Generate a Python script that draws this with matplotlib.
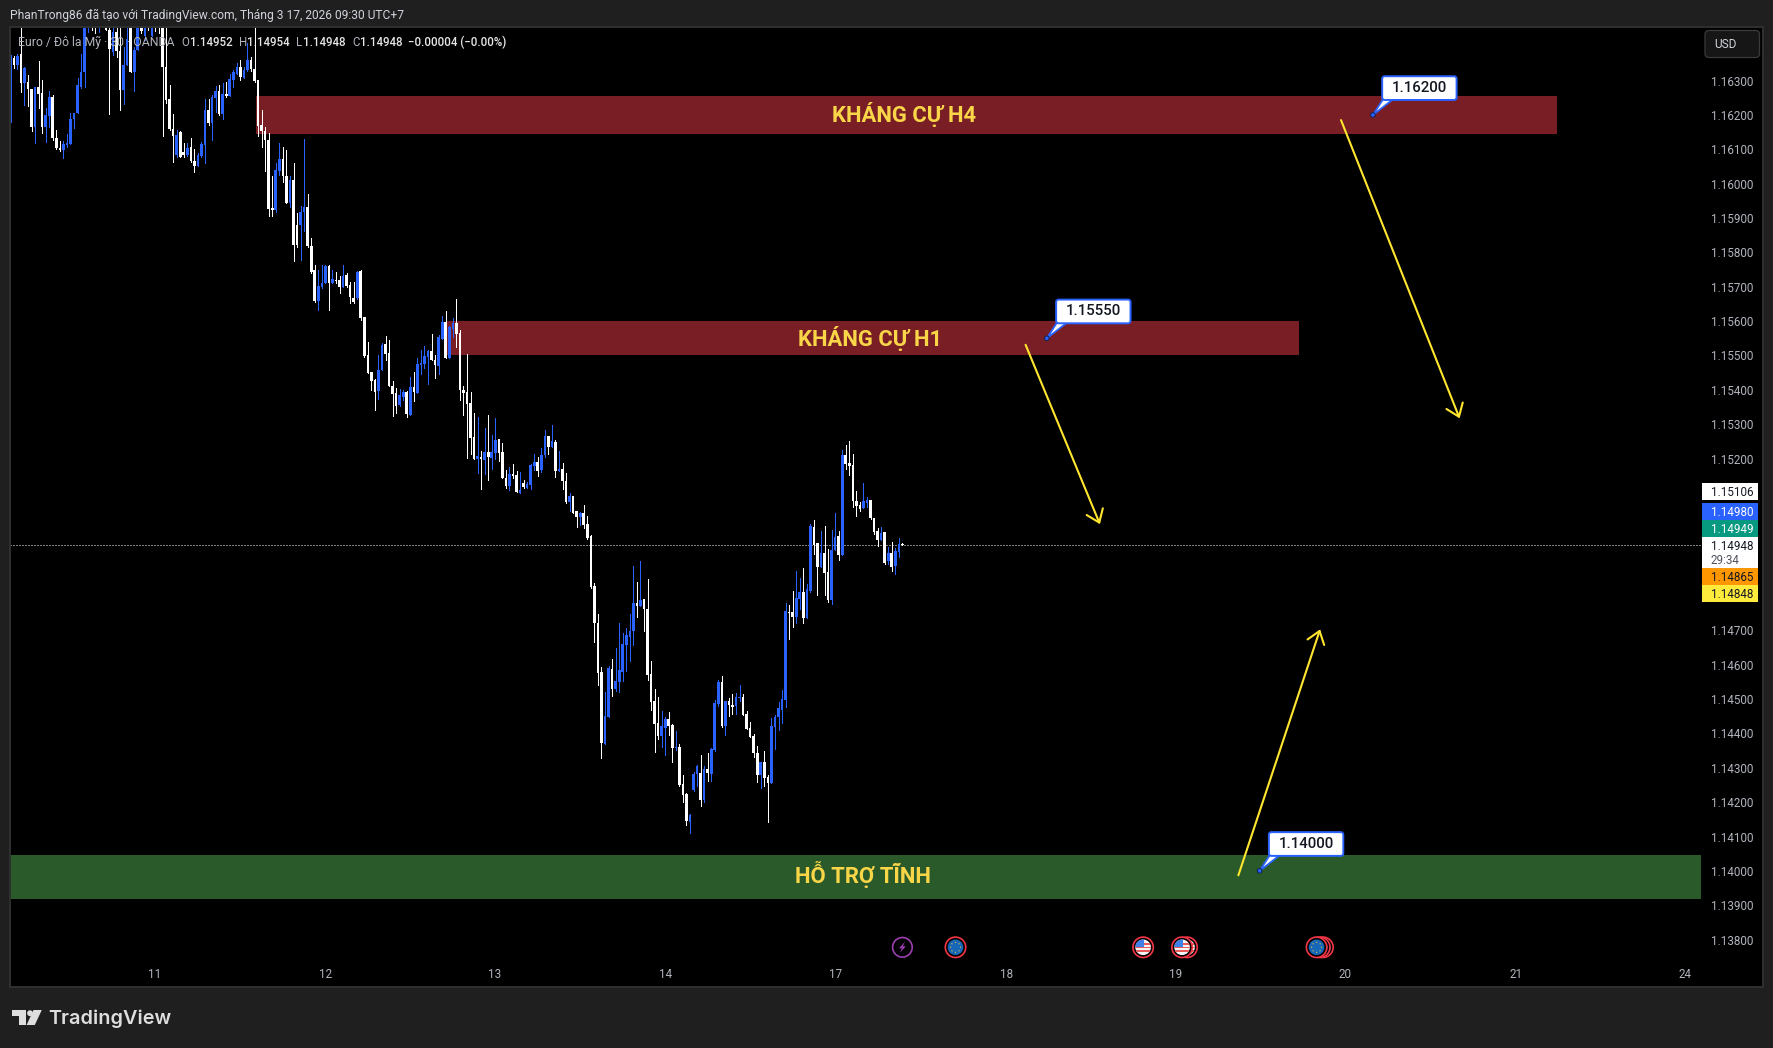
import numpy as np
import matplotlib
matplotlib.use("Agg")
import matplotlib.pyplot as plt
from matplotlib.patches import Rectangle, Circle, Polygon, FancyBboxPatch

# EURUSD 30 min candles, OANDA
opens = [
    1.16176, 1.16365, 1.16346, 1.16378, 1.16294, 1.16297, 1.16275, 1.16166, 1.16281, 1.16263,
    1.16166, 1.16198, 1.16251, 1.16132, 1.16103, 1.16097, 1.16112, 1.16116, 1.16188, 1.16205,
    1.16281, 1.16324, 1.16477, 1.16491, 1.16472, 1.16465, 1.16486, 1.16477, 1.16448, 1.16384,
    1.16442, 1.16387, 1.16273, 1.16346, 1.16452, 1.16325, 1.16388, 1.16477, 1.16430, 1.16467,
    1.16430, 1.16465, 1.16462, 1.16453, 1.16341, 1.16247, 1.16160, 1.16084, 1.16149, 1.16092,
    1.16084, 1.16106, 1.16066, 1.16050, 1.16082, 1.16113, 1.16215, 1.16178, 1.16249, 1.16271,
    1.16203, 1.16261, 1.16256, 1.16302, 1.16320, 1.16339, 1.16309, 1.16331, 1.16360, 1.16333,
    1.16302, 1.16171, 1.16152, 1.16126, 1.15929, 1.15922, 1.16038, 1.16072, 1.16021, 1.15943,
    1.16011, 1.15880, 1.15880, 1.15917, 1.15932, 1.15819, 1.15749, 1.15659, 1.15698, 1.15711,
    1.15759, 1.15712, 1.15720, 1.15720, 1.15699, 1.15735, 1.15706, 1.15667, 1.15667, 1.15746,
    1.15613, 1.15502, 1.15451, 1.15429, 1.15397, 1.15458, 1.15534, 1.15508, 1.15412, 1.15390,
    1.15356, 1.15379, 1.15394, 1.15327, 1.15409, 1.15391, 1.15473, 1.15476, 1.15496, 1.15513,
    1.15487, 1.15470, 1.15548, 1.15598, 1.15493, 1.15577, 1.15595, 1.15566, 1.15400, 1.15394,
    1.15362, 1.15263, 1.15199, 1.15205, 1.15196, 1.15219, 1.15202, 1.15217, 1.15257, 1.15219,
    1.15144, 1.15121, 1.15155, 1.15153, 1.15100, 1.15129, 1.15115, 1.15123, 1.15179, 1.15190,
    1.15167, 1.15211, 1.15266, 1.15234, 1.15249, 1.15164, 1.15170, 1.15135, 1.15074, 1.15091,
    1.15048, 1.15030, 1.15042, 1.15010, 1.14975, 1.14829, 1.14721, 1.14579, 1.14369, 1.14448,
    1.14588, 1.14529, 1.14550, 1.14579, 1.14657, 1.14681, 1.14698, 1.14780, 1.14771, 1.14791,
    1.14762, 1.14573, 1.14494, 1.14430, 1.14393, 1.14416, 1.14442, 1.14425, 1.14358, 1.14361,
    1.14253, 1.14224, 1.14142, 1.14235, 1.14282, 1.14285, 1.14206, 1.14297, 1.14282, 1.14352,
    1.14486, 1.14550, 1.14422, 1.14494, 1.14483, 1.14480, 1.14503, 1.14506, 1.14457, 1.14416,
    1.14393, 1.14343, 1.14279, 1.14317, 1.14273, 1.14256, 1.14419, 1.14448, 1.14468, 1.14497,
    1.14753, 1.14753, 1.14739, 1.14791, 1.14812, 1.14736, 1.14815, 1.15001, 1.14954, 1.14884,
    1.14925, 1.14870, 1.14788, 1.14934, 1.14974, 1.14919, 1.15210, 1.15187, 1.15181, 1.15076,
    1.15065, 1.15056, 1.15070, 1.15079, 1.15027, 1.14989, 1.14963, 1.14986, 1.14902, 1.14925,
    1.14887, 1.14928, 1.14952,
]
highs = [
    1.16375, 1.16372, 1.16377, 1.16477, 1.16341, 1.16317, 1.16275, 1.16281, 1.16357, 1.16302,
    1.16220, 1.16271, 1.16259, 1.16157, 1.16123, 1.16125, 1.16145, 1.16205, 1.16205, 1.16307,
    1.16377, 1.16496, 1.16516, 1.16506, 1.16486, 1.16506, 1.16501, 1.16496, 1.16467, 1.16477,
    1.16467, 1.16477, 1.16399, 1.16467, 1.16477, 1.16399, 1.16496, 1.16496, 1.16486, 1.16486,
    1.16486, 1.16486, 1.16482, 1.16477, 1.16467, 1.16288, 1.16203, 1.16157, 1.16152, 1.16118,
    1.16118, 1.16132, 1.16101, 1.16089, 1.16121, 1.16247, 1.16246, 1.16259, 1.16285, 1.16288,
    1.16292, 1.16295, 1.16320, 1.16331, 1.16351, 1.16360, 1.16341, 1.16409, 1.16370, 1.16477,
    1.16302, 1.16215, 1.16166, 1.16147, 1.16021, 1.16060, 1.16118, 1.16108, 1.16099, 1.16021,
    1.16060, 1.15914, 1.15936, 1.16130, 1.15969, 1.15841, 1.15764, 1.15749, 1.15764, 1.15764,
    1.15764, 1.15749, 1.15744, 1.15732, 1.15764, 1.15740, 1.15715, 1.15715, 1.15747, 1.15750,
    1.15613, 1.15540, 1.15451, 1.15431, 1.15502, 1.15536, 1.15557, 1.15545, 1.15426, 1.15406,
    1.15403, 1.15400, 1.15397, 1.15438, 1.15452, 1.15492, 1.15516, 1.15528, 1.15516, 1.15563,
    1.15502, 1.15560, 1.15615, 1.15630, 1.15586, 1.15609, 1.15665, 1.15575, 1.15412, 1.15505,
    1.15394, 1.15333, 1.15321, 1.15222, 1.15289, 1.15327, 1.15269, 1.15318, 1.15257, 1.15246,
    1.15167, 1.15176, 1.15185, 1.15164, 1.15161, 1.15138, 1.15132, 1.15185, 1.15214, 1.15205,
    1.15231, 1.15284, 1.15266, 1.15298, 1.15254, 1.15222, 1.15187, 1.15158, 1.15100, 1.15091,
    1.15048, 1.15045, 1.15065, 1.15033, 1.14978, 1.14837, 1.14748, 1.14593, 1.14521, 1.14596,
    1.14617, 1.14649, 1.14721, 1.14692, 1.14707, 1.14748, 1.14887, 1.14841, 1.14902, 1.14791,
    1.14850, 1.14611, 1.14529, 1.14506, 1.14465, 1.14448, 1.14462, 1.14428, 1.14407, 1.14369,
    1.14279, 1.14227, 1.14166, 1.14288, 1.14308, 1.14337, 1.14305, 1.14343, 1.14358, 1.14497,
    1.14556, 1.14567, 1.14494, 1.14503, 1.14515, 1.14518, 1.14541, 1.14515, 1.14465, 1.14433,
    1.14398, 1.14364, 1.14317, 1.14349, 1.14279, 1.14445, 1.14454, 1.14492, 1.14527, 1.14780,
    1.14774, 1.14815, 1.14873, 1.14852, 1.14882, 1.14835, 1.15009, 1.15021, 1.14954, 1.14989,
    1.15004, 1.14937, 1.14992, 1.15041, 1.14989, 1.15225, 1.15239, 1.15251, 1.15213, 1.15105,
    1.15073, 1.15129, 1.15088, 1.15079, 1.15027, 1.14998, 1.15001, 1.14986, 1.14942, 1.14957,
    1.14940, 1.14969, 1.14954,
]
lows = [
    1.16176, 1.16336, 1.16334, 1.16268, 1.16229, 1.16225, 1.16152, 1.16118, 1.16220, 1.16147,
    1.16120, 1.16166, 1.16127, 1.16100, 1.16094, 1.16074, 1.16108, 1.16116, 1.16162, 1.16205,
    1.16278, 1.16281, 1.16442, 1.16448, 1.16438, 1.16442, 1.16462, 1.16448, 1.16203, 1.16374,
    1.16370, 1.16215, 1.16232, 1.16346, 1.16325, 1.16271, 1.16388, 1.16438, 1.16419, 1.16448,
    1.16430, 1.16443, 1.16438, 1.16139, 1.16234, 1.16157, 1.16062, 1.16079, 1.16077, 1.16079,
    1.16081, 1.16062, 1.16033, 1.16050, 1.16079, 1.16060, 1.16171, 1.16127, 1.16210, 1.16200,
    1.16189, 1.16252, 1.16256, 1.16281, 1.16320, 1.16302, 1.16309, 1.16329, 1.16329, 1.16297,
    1.16139, 1.16108, 1.16038, 1.15906, 1.15906, 1.15919, 1.16026, 1.16006, 1.15943, 1.15932,
    1.15776, 1.15817, 1.15778, 1.15861, 1.15817, 1.15741, 1.15657, 1.15633, 1.15696, 1.15711,
    1.15633, 1.15711, 1.15712, 1.15683, 1.15699, 1.15699, 1.15652, 1.15654, 1.15665, 1.15602,
    1.15495, 1.15448, 1.15400, 1.15342, 1.15374, 1.15458, 1.15487, 1.15410, 1.15324, 1.15332,
    1.15353, 1.15371, 1.15322, 1.15327, 1.15368, 1.15391, 1.15446, 1.15464, 1.15417, 1.15487,
    1.15435, 1.15446, 1.15548, 1.15493, 1.15493, 1.15554, 1.15525, 1.15371, 1.15327, 1.15202,
    1.15214, 1.15199, 1.15158, 1.15112, 1.15155, 1.15138, 1.15170, 1.15199, 1.15193, 1.15144,
    1.15115, 1.15109, 1.15144, 1.15103, 1.15100, 1.15115, 1.15115, 1.15112, 1.15167, 1.15150,
    1.15161, 1.15205, 1.15214, 1.15234, 1.15147, 1.15164, 1.15112, 1.15071, 1.15048, 1.15042,
    1.15001, 1.15007, 1.14998, 1.14966, 1.14823, 1.14667, 1.14541, 1.14329, 1.14369, 1.14448,
    1.14509, 1.14524, 1.14521, 1.14553, 1.14582, 1.14611, 1.14657, 1.14739, 1.14771, 1.14698,
    1.14556, 1.14468, 1.14346, 1.14384, 1.14361, 1.14337, 1.14396, 1.14317, 1.14352, 1.14247,
    1.14201, 1.14134, 1.14110, 1.14233, 1.14247, 1.14189, 1.14201, 1.14262, 1.14262, 1.14349,
    1.14480, 1.14419, 1.14396, 1.14451, 1.14457, 1.14457, 1.14494, 1.14454, 1.14413, 1.14390,
    1.14332, 1.14259, 1.14241, 1.14247, 1.14142, 1.14256, 1.14355, 1.14410, 1.14430, 1.14477,
    1.14675, 1.14710, 1.14721, 1.14762, 1.14721, 1.14736, 1.14812, 1.14922, 1.14803, 1.14884,
    1.14803, 1.14782, 1.14777, 1.14934, 1.14905, 1.14919, 1.15169, 1.15152, 1.15059, 1.15033,
    1.15047, 1.15056, 1.15059, 1.15024, 1.14980, 1.14945, 1.14963, 1.14893, 1.14893, 1.14873,
    1.14864, 1.14913, 1.14948,
]
closes = [
    1.16375, 1.16346, 1.16373, 1.16294, 1.16336, 1.16275, 1.16166, 1.16281, 1.16261, 1.16166,
    1.16200, 1.16252, 1.16132, 1.16103, 1.16097, 1.16116, 1.16118, 1.16188, 1.16205, 1.16288,
    1.16325, 1.16477, 1.16496, 1.16472, 1.16465, 1.16486, 1.16477, 1.16448, 1.16392, 1.16442,
    1.16385, 1.16273, 1.16346, 1.16421, 1.16325, 1.16389, 1.16477, 1.16443, 1.16467, 1.16453,
    1.16467, 1.16454, 1.16453, 1.16341, 1.16244, 1.16160, 1.16139, 1.16142, 1.16079, 1.16083,
    1.16105, 1.16065, 1.16050, 1.16084, 1.16116, 1.16215, 1.16178, 1.16252, 1.16271, 1.16203,
    1.16260, 1.16254, 1.16304, 1.16324, 1.16339, 1.16310, 1.16331, 1.16360, 1.16333, 1.16300,
    1.16168, 1.16152, 1.16126, 1.15926, 1.15922, 1.16040, 1.16071, 1.16021, 1.15945, 1.16011,
    1.15822, 1.15822, 1.15917, 1.15932, 1.15819, 1.15744, 1.15659, 1.15703, 1.15711, 1.15759,
    1.15711, 1.15722, 1.15717, 1.15699, 1.15732, 1.15701, 1.15669, 1.15657, 1.15742, 1.15610,
    1.15499, 1.15450, 1.15427, 1.15395, 1.15458, 1.15531, 1.15505, 1.15410, 1.15388, 1.15353,
    1.15385, 1.15394, 1.15330, 1.15409, 1.15394, 1.15476, 1.15478, 1.15499, 1.15513, 1.15487,
    1.15473, 1.15554, 1.15598, 1.15493, 1.15582, 1.15595, 1.15563, 1.15400, 1.15392, 1.15359,
    1.15260, 1.15199, 1.15208, 1.15199, 1.15219, 1.15205, 1.15219, 1.15254, 1.15217, 1.15144,
    1.15121, 1.15155, 1.15150, 1.15103, 1.15109, 1.15118, 1.15126, 1.15182, 1.15190, 1.15164,
    1.15211, 1.15266, 1.15234, 1.15251, 1.15164, 1.15170, 1.15135, 1.15074, 1.15091, 1.15042,
    1.15030, 1.15042, 1.15007, 1.14969, 1.14827, 1.14721, 1.14577, 1.14373, 1.14451, 1.14590,
    1.14529, 1.14553, 1.14585, 1.14660, 1.14687, 1.14698, 1.14780, 1.14771, 1.14788, 1.14762,
    1.14570, 1.14492, 1.14428, 1.14393, 1.14422, 1.14442, 1.14422, 1.14358, 1.14361, 1.14250,
    1.14221, 1.14145, 1.14163, 1.14282, 1.14305, 1.14206, 1.14297, 1.14285, 1.14355, 1.14489,
    1.14550, 1.14422, 1.14494, 1.14483, 1.14477, 1.14506, 1.14506, 1.14454, 1.14413, 1.14390,
    1.14343, 1.14279, 1.14317, 1.14270, 1.14256, 1.14422, 1.14448, 1.14474, 1.14500, 1.14756,
    1.14751, 1.14739, 1.14794, 1.14812, 1.14736, 1.14820, 1.15004, 1.14948, 1.14884, 1.14925,
    1.14867, 1.14788, 1.14934, 1.14972, 1.14919, 1.15210, 1.15184, 1.15178, 1.15076, 1.15062,
    1.15053, 1.15076, 1.15079, 1.15027, 1.14986, 1.14963, 1.14983, 1.14896, 1.14925, 1.14884,
    1.14931, 1.14951, 1.14948,
]

day_ticks = [40.8, 89.0, 136.9, 185.2, 233.1, 281.3, 329.2, 377.1, 425.3, 473.2]
day_labels = ["11", "12", "13", "14", "17", "18", "19", "20", "21", "24"]
price_ticks = [1.163, 1.162, 1.161, 1.160, 1.159, 1.158, 1.157, 1.156, 1.155, 1.154, 1.153, 1.152,
               1.147, 1.146, 1.145, 1.144, 1.143, 1.142, 1.141, 1.140, 1.139, 1.138]

zone_names = ["KHÁNG CỰ H4", "KHÁNG CỰ H1", "HỖ TRỢ TĨNH"]
zone_start = [69.4, 123.4, -0.1]
zone_end = [436.9, 364.0, 477.5]
zone_low = [1.16145, 1.15500, 1.13919]
zone_high = [1.16255, 1.15600, 1.14046]
zone_label_x = [252.6, 243.0, 240.8]
zone_label_y = [1.16210, 1.15557, 1.13997]
zone_colors = ["#7a1e26", "#7a1e26", "#2a5a2a"]

# price notes sitting on the zones
note_bars = [384.9, 292.8, 352.9]
note_prices = [1.16200, 1.15550, 1.14000]

# projected moves
arrow_from = [(375.9, 1.16185), (286.8, 1.15531), (346.9, 1.13987)]
arrow_to = [(409.4, 1.15317), (307.8, 1.15009), (370.0, 1.14703)]

# stacked price tags on the scale
tag_values = ["1.15106", "1.14980", "1.14949", "1.14948", "1.14865", "1.14848"]
tag_colors = ["#ffffff", "#2962ff", "#089981", "#ffffff", "#ff9800", "#ffeb3b"]
tag_text = ["#131722", "#ffffff", "#ffffff", "#131722", "#131722", "#131722"]
tag_tops = [483.3, 503.0, 519.7, 537.0, 568.0, 585.0]
tag_bottoms = [500.0, 519.7, 537.0, 568.0, 585.0, 602.0]

# calendar events along the bottom, later ones drawn on top
event_bars = [252.0, 267.0, 320.0, 332.4, 331.0, 370.8, 369.9, 369.0]
event_kinds = ["bolt", "eu", "us", "us", "us", "eu", "eu", "eu"]

last_price = closes[-1]
W, H = 1773, 1048
BG = "#1f1f1f"
UP = "#2962ff"
DOWN = "#ffffff"
GREY = "#b2b5be"
FONT = "Roboto"

fig = plt.figure(figsize=(W / 100, H / 100), dpi=100, facecolor=BG)
ax = fig.add_axes([10 / W, (H - 987) / H, 1753 / W, 960 / H], facecolor="black")
ax.set_xlim(-0.085, 495.1)
ax.set_ylim(1.13662, 1.16456)

for side in ax.spines.values():
    side.set_color("#303030")
    side.set_linewidth(1.4)

ax.yaxis.tick_right()
ax.set_yticks(price_ticks, [f"{p:.5f}" for p in price_ticks], fontfamily=FONT, fontsize=8.4, color=GREY)
ax.set_xticks(day_ticks, day_labels, fontfamily=FONT, fontsize=8.4, color=GREY)
ax.tick_params(axis="y", length=0, pad=-37.4)
ax.tick_params(axis="x", length=0, pad=-13.8)

# zones go under the candles
for i in range(len(zone_names)):
    ax.add_patch(Rectangle((zone_start[i], zone_low[i]), zone_end[i] - zone_start[i],
                           zone_high[i] - zone_low[i], fc=zone_colors[i], ec="none", zorder=1))

ax.plot([-0.085, 477.3], [last_price, last_price], color="white", lw=0.72, ls=(0, (1, 2)), zorder=1.5)

o = np.array(opens)
h = np.array(highs)
l = np.array(lows)
c = np.array(closes)
x = np.arange(len(o))
cols = np.where(c >= o, UP, DOWN)

ax.vlines(x, l, h, colors=cols, lw=0.6, zorder=2, antialiased=False)
bottoms = np.minimum(o, c)
heights = np.maximum(np.abs(c - o), 0.00003)
ax.bar(x, heights, bottom=bottoms, width=0.74, color=cols, linewidth=0, zorder=2.2, antialiased=False)

for i in range(len(zone_names)):
    ax.text(zone_label_x[i], zone_label_y[i], zone_names[i], color="#f9d648", fontfamily=FONT, fontweight="bold",
            fontsize=15.8, ha="center", va="center_baseline", zorder=4)

for a, b in zip(arrow_from, arrow_to):
    ax.annotate("", xy=b, xytext=a, zorder=3.5,
                arrowprops=dict(arrowstyle="->,head_length=8.5,head_width=6.3", color="#ffe62e", lw=1.5,
                                shrinkA=0, shrinkB=0, mutation_scale=1))

# everything else is laid out in screen pixels on a second, transparent axes
ui = fig.add_axes([0, 0, 1, 1], facecolor="none", zorder=5)
ui.set_xlim(0, W)
ui.set_ylim(H, 0)
ui.axis("off")


def to_ui(bar, price):
    px, py = ax.transData.transform((bar, price))
    return px, H - py


ui.text(10, 15, "PhanTrong86 đã tạo với TradingView.com, Tháng 3 17, 2026 09:30 UTC+7",
        color="#d1d4dc", fontfamily=FONT, fontsize=8.65, va="center", ha="left")

legend_parts = [
    (18, "Euro / Đô la Mỹ · 30 · OANDA", GREY, 8.8),
    (181.5, "O", GREY, 8.3), (190, "1.14952", "#e6e6e6", 8.3),
    (239, "H", GREY, 8.3), (247, "1.14954", "#e6e6e6", 8.3),
    (296, "L", GREY, 8.3), (303, "1.14948", "#e6e6e6", 8.3),
    (352, "C", GREY, 8.3), (360, "1.14948", "#e6e6e6", 8.3),
    (408, "−0.00004 (−0.00%)", "#e6e6e6", 8.3),
]
for lx, txt, col, fs in legend_parts:
    ui.text(lx, 42, txt, color=col, fontfamily=FONT, fontsize=fs, va="center", ha="left",
            fontweight="medium" if col != GREY else "normal")

# currency button
ui.add_patch(FancyBboxPatch((1708, 33.5), 48.5, 21, boxstyle="round,pad=3,rounding_size=4",
                            fc="#161616", ec="#3a3a3a", lw=0.9))
ui.text(1714, 44.5, "USD", color="#d1d4dc", fontfamily=FONT, fontsize=8.6, va="center", ha="left")

# price tags
for i in range(len(tag_values)):
    ui.add_patch(Rectangle((1702, tag_tops[i]), 55.7, tag_bottoms[i] - tag_tops[i], fc=tag_colors[i], ec="none"))
    ty = (tag_tops[i] + min(tag_bottoms[i], tag_tops[i] + 17)) / 2 + 1
    ui.text(1710.8, ty, tag_values[i], color=tag_text[i], fontfamily=FONT, fontsize=8.4, va="center", ha="left")
ui.text(1710.8, 560.5, "29:34", color="#50535e", fontfamily=FONT, fontsize=8.4, va="center", ha="left")

# zone price notes
for bar, price in zip(note_bars, note_prices):
    dx, dy = to_ui(bar, price)
    ui.add_patch(Polygon([(dx, dy), (dx + 10, dy - 15.5), (dx + 20, dy - 15.5)], closed=True,
                         fc="white", ec=UP, lw=1.3, zorder=3))
    ui.add_patch(FancyBboxPatch((dx + 10.5, dy - 37.5), 72, 21.3, boxstyle="round,pad=1.2,rounding_size=2.5",
                                fc="white", ec=UP, lw=1.4, zorder=4))
    ui.add_patch(Circle((dx, dy), 2.3, fc=UP, ec="#10204a", lw=0.7, zorder=5))
    ui.text(dx + 46.8, dy - 27, f"{price:.5f}", color="#131722", fontfamily=FONT, fontsize=10.8,
            fontweight="medium", ha="center", va="center", zorder=5)


def eu_icon(cx, cy):
    ui.add_patch(Circle((cx, cy), 10.2, fc="black", ec="#f23645", lw=1.2))
    ui.add_patch(Circle((cx, cy), 7.8, fc="#1767b8", ec="none"))
    for a in np.arange(0, 360, 45):
        ui.add_patch(Circle((cx + 5 * np.cos(np.radians(a)), cy + 5 * np.sin(np.radians(a))), 0.6,
                            fc="#f2c230", ec="none"))


def us_icon(cx, cy):
    ui.add_patch(Circle((cx, cy), 10.2, fc="black", ec="#f23645", lw=1.2))
    disc = Circle((cx, cy), 7.8, fc="#f4f4f4", ec="none")
    ui.add_patch(disc)
    for sy in [-4.5, -0.8, 2.9]:
        r = Rectangle((cx - 8, cy + sy), 16, 1.9, fc="#ee5a5a", ec="none")
        ui.add_patch(r)
        r.set_clip_path(disc)
    r = Rectangle((cx - 8, cy - 8), 8.5, 8, fc="#3f7fe8", ec="none")
    ui.add_patch(r)
    r.set_clip_path(disc)


def bolt_icon(cx, cy):
    ui.add_patch(Circle((cx, cy), 9.8, fc="black", ec="#9c3fb0", lw=1.2))
    ui.add_patch(Polygon([(cx + 2.5, cy - 5.5), (cx - 3.5, cy + 1), (cx - 0.5, cy + 1), (cx - 2.5, cy + 5.5),
                          (cx + 3.5, cy - 1), (cx + 0.5, cy - 1)], closed=True, fc="#9c3fb0", ec="none"))


for bar, kind in zip(event_bars, event_kinds):
    ex = to_ui(bar, last_price)[0]
    if kind == "eu":
        eu_icon(ex, 947.3)
    elif kind == "us":
        us_icon(ex, 947.3)
    else:
        bolt_icon(ex, 947.3)

# footer logo
logo = "#dedede"
ui.add_patch(Polygon([(12, 1010), (26, 1010), (26, 1025), (19, 1025), (19, 1016), (12, 1016)], closed=True, fc=logo, ec="none"))
ui.add_patch(Circle((30, 1013.2), 2.9, fc=logo, ec="none"))
ui.add_patch(Polygon([(33.5, 1010), (41.8, 1010), (34.8, 1025), (26.6, 1025)], closed=True, fc=logo, ec="none"))
ui.text(48.5, 1018.3, "TradingView", color=logo, fontfamily="Inter", fontweight="semibold", fontsize=14.3,
        va="center", ha="left")

fig.savefig("out.png", dpi=100, facecolor=BG)
